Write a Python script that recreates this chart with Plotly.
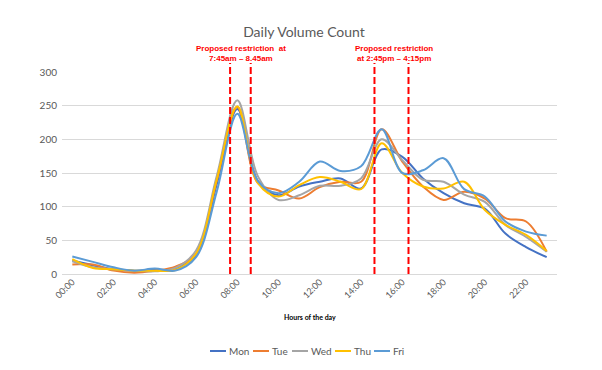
import plotly.graph_objects as go

hours = ["00:00", "01:00", "02:00", "03:00", "04:00", "05:00", "06:00", "07:00",
         "08:00", "09:00", "10:00", "11:00", "12:00", "13:00", "14:00", "15:00",
         "16:00", "17:00", "18:00", "19:00", "20:00", "21:00", "22:00", "23:00"]

mon = [20, 13, 7, 5, 6, 8, 28, 133, 245, 138, 117, 130, 137, 142, 127, 185, 174, 142, 120, 105, 97, 60, 40, 25]
tue = [14, 14, 5, 2, 5, 11, 30, 138, 248, 135, 124, 112, 129, 137, 137, 215, 167, 130, 110, 122, 112, 83, 78, 33]
wed = [19, 10, 7, 5, 4, 9, 35, 145, 258, 145, 110, 117, 131, 131, 142, 200, 169, 140, 137, 118, 107, 73, 55, 33]
thu = [22, 9, 7, 5, 5, 6, 30, 140, 249, 135, 115, 132, 144, 137, 126, 194, 150, 130, 127, 137, 95, 73, 58, 34]
fri = [26, 18, 10, 5, 8, 5, 25, 122, 238, 138, 120, 137, 167, 153, 160, 215, 150, 154, 172, 126, 115, 78, 63, 57]

series_names = ["Mon", "Tue", "Wed", "Thu", "Fri"]
series_colors = ["#4472C4", "#ED7D31", "#A5A5A5", "#FFC000", "#5B9BD5"]

# restriction markers (category-index positions) and their labels
restriction_x = [7.65, 8.65, 14.65, 16.3]
note1 = "Proposed restriction  at<br>7:45am \u2013 8.45am"
note2 = "Proposed restriction<br>at 2:45pm \u2013 4:15pm"

W, H = 602, 370
ML, MR, MT, MB = 62, 45, 72, 96
PW, PH = W - ML - MR, H - MT - MB


def px_to_paper_x(px):
    return (px - ML) / PW


def py_to_paper_y(py):
    return (H - MB - py) / PH


fig = go.Figure()
for name, vals, col in zip(series_names, [mon, tue, wed, thu, fri], series_colors):
    fig.add_trace(go.Scatter(
        x=hours, y=vals, name=name, mode="lines", showlegend=False,
        line=dict(color=col, width=2, shape="spline", smoothing=1.0),
    ))

for xv in restriction_x:
    fig.add_shape(type="line", xref="x", yref="paper", x0=xv, x1=xv, y0=0, y1=py_to_paper_y(63),
                  line=dict(color="#FF0000", width=2, dash="7px,3px"))

red_font = dict(family="Liberation Sans Narrow, Arial Narrow, sans-serif", size=8, color="#FF0000")
for xi, txt in [(8.2, note1), (15.6, note2)]:
    fig.add_annotation(x=xi, xref="x", y=py_to_paper_y(53.5), yref="paper",
                       text="<b>" + txt + "</b>", showarrow=False,
                       font=red_font, xanchor="center", yanchor="middle", align="center")

fig.add_annotation(x=0.5, xref="paper", y=py_to_paper_y(317), yref="paper", text="<b>Hours of the day</b>",
                   showarrow=False, font=dict(family="Lato, Open Sans, sans-serif", size=7, color="#000000"),
                   xanchor="center", yanchor="middle")

# compact legend (short line samples, as in the reference)
legend_px = [210, 253, 292, 335, 374]
legend_py = 351
for name, col, lx in zip(series_names, series_colors, legend_px):
    fig.add_shape(type="line", xref="paper", yref="paper",
                  x0=px_to_paper_x(lx), x1=px_to_paper_x(lx + 16),
                  y0=py_to_paper_y(legend_py), y1=py_to_paper_y(legend_py),
                  line=dict(color=col, width=2))
    fig.add_annotation(x=px_to_paper_x(lx + 17), xref="paper", y=py_to_paper_y(legend_py), yref="paper",
                       text=name, showarrow=False, xanchor="left", yanchor="middle",
                       font=dict(family="Lato, Open Sans, sans-serif", size=10, color="#595959"))

fig.update_layout(
    width=W, height=H, autosize=False,
    margin=dict(l=ML, r=MR, t=MT, b=MB),
    paper_bgcolor="white", plot_bgcolor="white",
    title=dict(text="Daily Volume Count", x=0.505, xanchor="center", y=0.912, yanchor="middle",
               font=dict(family="Lato, Open Sans, sans-serif", size=14, color="#595959")),
    font=dict(family="Lato, Open Sans, sans-serif", size=9, color="#595959"),
    showlegend=False,
    xaxis=dict(type="category", range=[-0.5, 23.5], tickmode="array",
               tickvals=hours[::2], ticktext=hours[::2], tickangle=-45,
               showgrid=False, showline=False, zeroline=False, ticks="", automargin=False,
               tickfont=dict(size=9, color="#595959")),
    yaxis=dict(range=[0, 300], dtick=50, showgrid=True, gridcolor="#D9D9D9", gridwidth=1,
               zeroline=True, zerolinecolor="#D9D9D9", zerolinewidth=1, showline=False,
               ticks="", ticklabelstandoff=4, automargin=False,
               tickfont=dict(size=10, color="#595959")),
)

fig.write_html("out.html", config={"displayModeBar": False},
               post_script="document.body.style.margin='0';document.body.style.overflow='hidden';")
